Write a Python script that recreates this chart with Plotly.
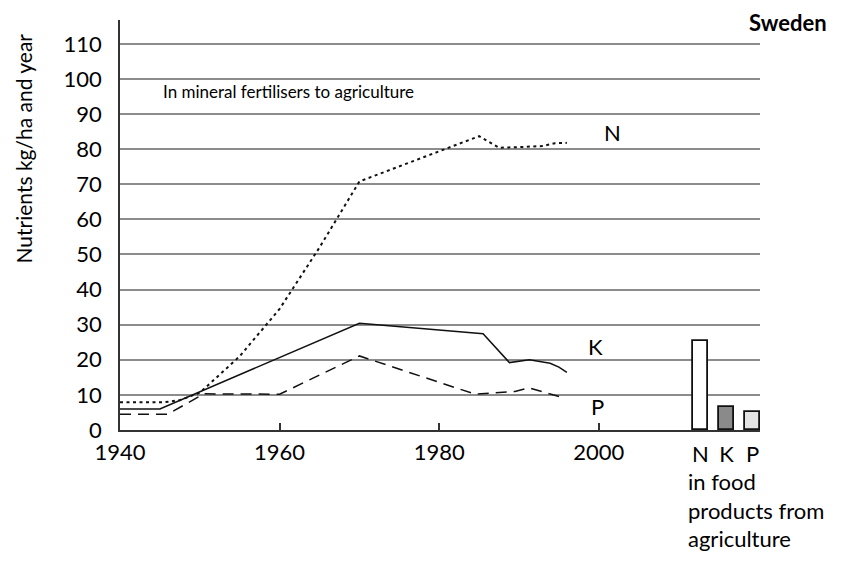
import plotly.graph_objects as go

# ---------------- data ----------------
years_N = [1940, 1945.5, 1947.5, 1950, 1955, 1960, 1965, 1970, 1985, 1987.5, 1990, 1993, 1994.5, 1996]
N_vals = [7.9, 7.9, 8.5, 10.6, 21, 34.5, 52, 70.8, 83.7, 80.4, 80.6, 80.9, 81.7, 81.8]

years_K = [1940, 1945, 1970, 1985.5, 1988.8, 1991.3, 1993.9, 1995.0, 1996]
K_vals = [6.0, 6.0, 30.4, 27.4, 19.2, 20.0, 19.0, 17.9, 16.4]

years_P = [1940, 1946, 1950.5, 1960, 1970, 1984.5, 1989.5, 1991.3, 1993.8, 1995.6]
P_vals = [4.5, 4.5, 10.3, 10.2, 21.1, 10.2, 11.0, 12.0, 10.3, 9.2]

food_cats = ["N", "K", "P"]
food_vals = [25.4, 6.6, 5.2]
food_colors = ["#ffffff", "#8a8a8a", "#e2e2e2"]

x_ticks = [1940, 1960, 1980, 2000]
y_ticks = [0, 10, 20, 30, 40, 50, 60, 70, 80, 90, 100, 110]

FONT = "Lato"

# ---------------- layout helpers ----------------
# the page body adds an 8px offset; figure is shrunk so it ends at the window edge
OFF = 8
PAGE_W, PAGE_H = 843, 564
W, H = PAGE_W - OFF, PAGE_H - OFF
# plot area in page pixels
PX0, PX1, PY0, PY1 = 120, 760, 20, 430
L, R = PX0 - OFF, W - (PX1 - OFF)
T, B = PY0 - OFF, H - (PY1 - OFF)
PW, PH = PX1 - PX0, PY1 - PY0


def px(x):
    return (x - PX0) / PW


def py(y):
    return (PY1 - y) / PH


fig = go.Figure()

fig.add_trace(go.Scatter(x=years_N, y=N_vals, mode="lines",
                         line=dict(color="#111", width=2, dash="3px,3.5px"),
                         showlegend=False, hoverinfo="x+y"))
fig.add_trace(go.Scatter(x=years_K, y=K_vals, mode="lines",
                         line=dict(color="#111", width=1.5),
                         showlegend=False, hoverinfo="x+y"))
fig.add_trace(go.Scatter(x=years_P, y=P_vals, mode="lines",
                         line=dict(color="#111", width=1.5, dash="11px,7px"),
                         showlegend=False, hoverinfo="x+y"))

fig.add_trace(go.Bar(x=food_cats, y=food_vals, xaxis="x2", yaxis="y",
                     width=0.55,
                     marker=dict(color=food_colors, line=dict(color="#111", width=1.8)),
                     showlegend=False, hoverinfo="x+y"))

annotations = [
    dict(text="<b>Sweden</b>", x=px(788), y=py(22), font=dict(size=22, family=FONT, color="#000"),
         xanchor="center", yanchor="middle"),
    dict(text="In mineral fertilisers to agriculture", x=px(161), y=py(91),
         font=dict(size=17, family=FONT, color="#000"), xanchor="left", yanchor="middle"),
    dict(text="Nutrients kg/ha and year", x=px(23), y=py(148.5), textangle=-90,
         font=dict(size=21, family=FONT, color="#000"), xanchor="center", yanchor="middle"),
    dict(text="N", x=px(612.5), y=py(132.5), font=dict(size=22, family=FONT, color="#000"),
         xanchor="center", yanchor="middle"),
    dict(text="K", x=px(595.5), y=py(346), font=dict(size=22, family=FONT, color="#000"),
         xanchor="center", yanchor="middle"),
    dict(text="P", x=px(597.5), y=py(406), font=dict(size=22, family=FONT, color="#000"),
         xanchor="center", yanchor="middle"),
    dict(text="in food<br>products from<br>agriculture", x=px(686), y=py(510), align="left",
         font=dict(size=22, family=FONT, color="#000"), xanchor="left", yanchor="middle"),
]
for a in annotations:
    a.update(xref="paper", yref="paper", showarrow=False)

# category axis placement: index 0 at ~700px, spacing ~26px (page pixels)
c0, step = 700.5, 26.0
r0 = -(c0 - PX0) / step
r1 = r0 + PW / step

fig.update_layout(
    width=W, height=H,
    margin=dict(l=L, r=R, t=T, b=B, pad=0),
    paper_bgcolor="white", plot_bgcolor="white",
    font=dict(family=FONT, color="#000"),
    bargap=0,
    xaxis=dict(range=[1940, 2020.2], tickvals=x_ticks, ticktext=[str(v) for v in x_ticks],
               ticks="inside", ticklen=7, tickwidth=1.5, tickcolor="#333",
               showline=True, linecolor="#333", linewidth=1.5,
               showgrid=False, zeroline=False,
               tickfont=dict(size=22, family=FONT, color="#000"), ticklabelstandoff=2),
    xaxis2=dict(overlaying="x", anchor="y", side="bottom", type="category",
                range=[r0, r1], showgrid=False, showline=False, zeroline=False,
                ticks="", tickfont=dict(size=22, family=FONT, color="#000"),
                ticklabelstandoff=9),
    yaxis=dict(range=[0, 116.8], tickvals=y_ticks, ticktext=[str(v) for v in y_ticks],
               showgrid=True, gridcolor="#8c8c8c", gridwidth=1.5,
               showline=True, linecolor="#333", linewidth=1.5,
               zeroline=False, ticks="",
               tickfont=dict(size=22, family=FONT, color="#000"), ticklabelstandoff=12),
    annotations=annotations,
)

fig.write_html("out.html")
